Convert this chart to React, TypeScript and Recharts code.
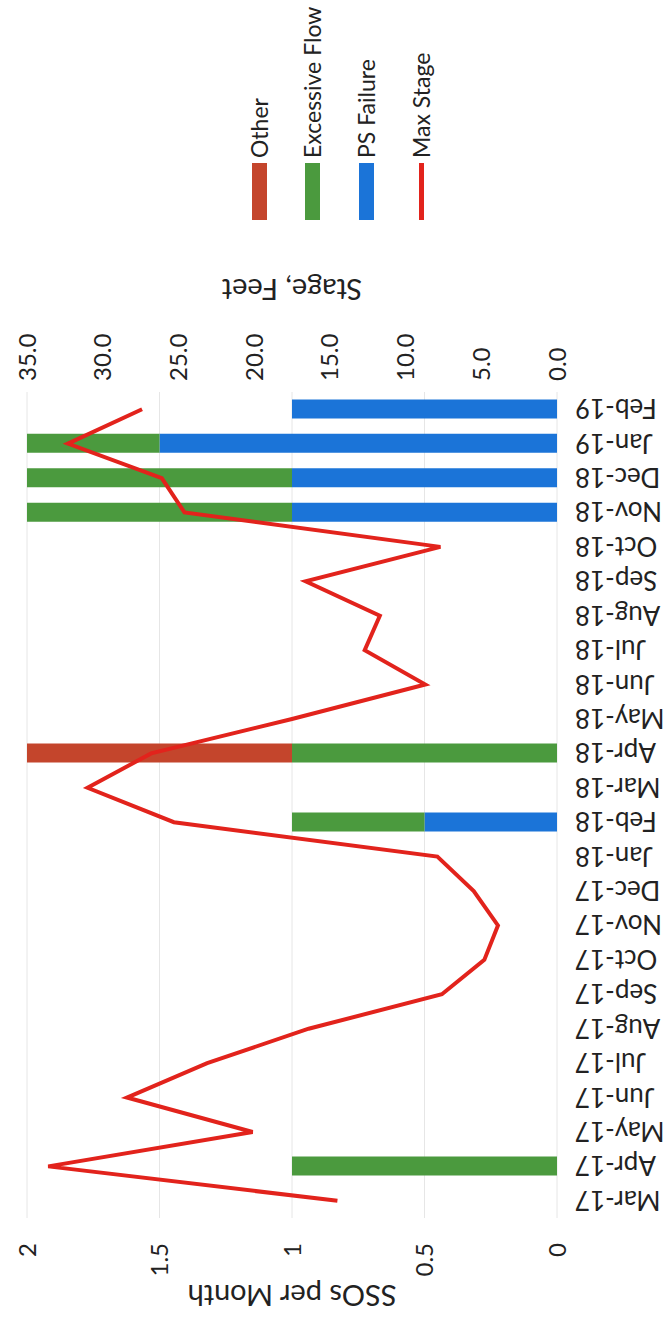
import { ComposedChart, Bar, Line, XAxis, YAxis, CartesianGrid } from 'recharts';

// Data
const months = [
  'Mar-17', 'Apr-17', 'May-17', 'Jun-17', 'Jul-17', 'Aug-17', 'Sep-17', 'Oct-17',
  'Nov-17', 'Dec-17', 'Jan-18', 'Feb-18', 'Mar-18', 'Apr-18', 'May-18', 'Jun-18',
  'Jul-18', 'Aug-18', 'Sep-18', 'Oct-18', 'Nov-18', 'Dec-18', 'Jan-19', 'Feb-19',
];
const psFailure = [0, 0, 0, 0, 0, 0, 0, 0, 0, 0, 0, 0.5, 0, 0, 0, 0, 0, 0, 0, 0, 1, 1, 1.5, 1];
const excessiveFlow = [0, 1, 0, 0, 0, 0, 0, 0, 0, 0, 0, 0.5, 0, 1, 0, 0, 0, 0, 0, 0, 1, 1, 0.5, 0];
const other = [0, 0, 0, 0, 0, 0, 0, 0, 0, 0, 0, 0, 0, 1, 0, 0, 0, 0, 0, 0, 0, 0, 0, 0];
const maxStage = [
  14.5, 33.6, 20.1, 28.4, 23.1, 16.4, 7.6, 4.8, 3.9, 5.5, 7.9, 25.3,
  31.0, 26.8, 17.5, 8.7, 12.7, 11.7, 16.6, 7.7, 24.6, 26.1, 32.3, 27.4,
];
const ssoTicks = [0, 0.5, 1, 1.5, 2];
const stageTicks = [0, 5, 10, 15, 20, 25, 30, 35];

const COLORS = {
  other: '#c4452c',
  flow: '#4b9a3e',
  ps: '#1b74d8',
  stage: '#e2231c',
};

const FONT = 'Lato, "Open Sans", sans-serif';
const TEXT = '#222';

// chart drawn landscape, then turned a quarter to the left
const W = 1320;
const H = 670;

const rows = months.map((m, i) => ({
  month: m,
  ps: psFailure[i],
  flow: excessiveFlow[i],
  other: other[i],
  stage: maxStage[i],
}));

const legendItems = [
  { name: 'Other', color: COLORS.other, line: false },
  { name: 'Excessive Flow', color: COLORS.flow, line: false },
  { name: 'PS Failure', color: COLORS.ps, line: false },
  { name: 'Max Stage', color: COLORS.stage, line: true },
];
const legendCenters = [259, 312, 366, 421];

const MonthTick = ({ x, y, payload }: any) => (
  <text
    x={x}
    y={y}
    transform={`rotate(-90 ${x} ${y})`}
    textAnchor="end"
    dominantBaseline="central"
    fontFamily={FONT}
    fontSize={26}
    fill={TEXT}
  >
    {payload.value}
  </text>
);

const axisTitle = (text: string, cx: number) => ({ viewBox }: any) => {
  const cy = viewBox.y + viewBox.height / 2;
  return (
    <text
      x={cx}
      y={cy}
      transform={`rotate(-90 ${cx} ${cy})`}
      textAnchor="middle"
      dominantBaseline="central"
      fontFamily={FONT}
      fontSize={29}
      fill={TEXT}
    >
      {text}
    </text>
  );
};

export default function App() {
  return (
    <div style={{ position: 'absolute', left: 0, top: 0, width: H, height: W, background: '#fff', overflow: 'hidden' }}>
      <div
        style={{
          position: 'absolute',
          left: 0,
          top: 0,
          width: W,
          height: H,
          transformOrigin: '0 0',
          transform: `translateY(${W}px) rotate(-90deg)`,
        }}
      >
        <ComposedChart width={W} height={H} data={rows} margin={{ top: 27, right: 272, bottom: 0, left: 0 }}>
          <CartesianGrid yAxisId="left" vertical={false} stroke="#e6e6e6" />
          <XAxis
            dataKey="month"
            interval={0}
            height={113}
            axisLine={false}
            tickLine={false}
            tickSize={0}
            tickMargin={18}
            tick={<MonthTick />}
          />
          <YAxis
            yAxisId="left"
            domain={[0, 2]}
            ticks={ssoTicks}
            width={102}
            axisLine={false}
            tickLine={false}
            tickSize={0}
            tickMargin={25}
            tick={{ fontFamily: FONT, fontSize: 24, fill: TEXT }}
            label={{ content: axisTitle('SSOs per Month', 24) }}
          />
          <YAxis
            yAxisId="right"
            orientation="right"
            domain={[0, 35]}
            ticks={stageTicks}
            tickFormatter={(v: number) => v.toFixed(1)}
            width={120}
            axisLine={false}
            tickLine={false}
            tickSize={0}
            tickMargin={11}
            tick={{ fontFamily: FONT, fontSize: 24, fill: TEXT }}
            label={{ content: axisTitle('Stage, Feet', 1030) }}
          />
          <Bar yAxisId="left" dataKey="ps" name="PS Failure" stackId="s" fill={COLORS.ps} barSize={19} isAnimationActive={false} />
          <Bar yAxisId="left" dataKey="flow" name="Excessive Flow" stackId="s" fill={COLORS.flow} barSize={19} isAnimationActive={false} />
          <Bar yAxisId="left" dataKey="other" name="Other" stackId="s" fill={COLORS.other} barSize={19} isAnimationActive={false} />
          <Line
            yAxisId="right"
            dataKey="stage"
            name="Max Stage"
            type="linear"
            stroke={COLORS.stage}
            strokeWidth={4}
            dot={false}
            activeDot={false}
            isAnimationActive={false}
          />
        </ComposedChart>

        {/* Legend */}
        {legendItems.map((item, i) => (
          <div
            key={item.name}
            style={{
              position: 'absolute',
              left: 1100,
              top: legendCenters[i] - 15,
              height: 30,
              display: 'flex',
              alignItems: 'center',
              fontFamily: FONT,
              fontSize: 23,
              color: TEXT,
              whiteSpace: 'nowrap',
            }}
          >
            <div
              style={{
                width: 57,
                height: item.line ? 5 : 15,
                background: item.color,
                marginRight: 5,
              }}
            />
            <span>{item.name}</span>
          </div>
        ))}
      </div>
    </div>
  );
}
